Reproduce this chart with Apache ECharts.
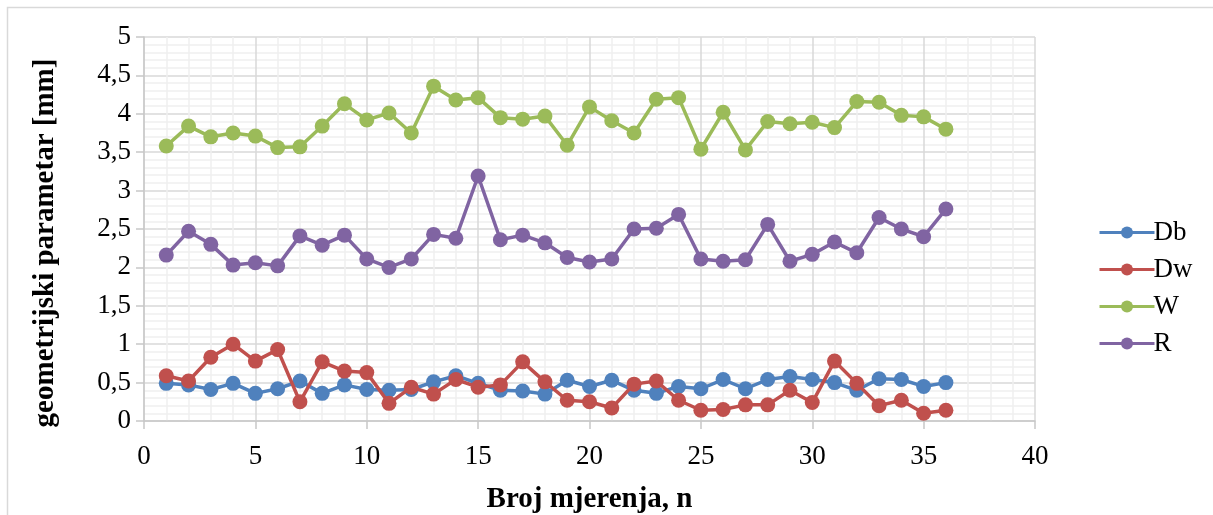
<!DOCTYPE html>
<html>
<head>
<meta charset="utf-8">
<script src="https://cdn.jsdelivr.net/npm/echarts@6/dist/echarts.min.js"></script>
<style>html,body{margin:0;padding:0;background:#fff;}#c{width:1213px;height:515px;}</style>
</head>
<body>
<div id="c"></div>
<script>
const n = [1,2,3,4,5,6,7,8,9,10,11,12,13,14,15,16,17,18,19,20,21,22,23,24,25,26,27,28,29,30,31,32,33,34,35,36];
const Db = [0.49,0.47,0.41,0.49,0.36,0.42,0.52,0.36,0.47,0.41,0.40,0.41,0.51,0.59,0.49,0.40,0.39,0.35,0.53,0.45,0.53,0.40,0.36,0.45,0.42,0.54,0.42,0.54,0.58,0.54,0.50,0.40,0.55,0.54,0.45,0.50];
const Dw = [0.59,0.52,0.83,1.00,0.78,0.93,0.25,0.77,0.65,0.63,0.23,0.44,0.35,0.54,0.44,0.47,0.77,0.51,0.27,0.25,0.17,0.48,0.52,0.27,0.14,0.15,0.21,0.21,0.40,0.24,0.78,0.49,0.20,0.27,0.10,0.14];
const W = [3.58,3.84,3.70,3.75,3.71,3.56,3.57,3.84,4.13,3.92,4.01,3.75,4.36,4.18,4.21,3.95,3.93,3.97,3.59,4.09,3.91,3.75,4.19,4.21,3.54,4.02,3.53,3.90,3.87,3.89,3.82,4.16,4.15,3.98,3.96,3.80];
const R = [2.16,2.47,2.30,2.03,2.06,2.02,2.41,2.29,2.42,2.11,2.00,2.11,2.43,2.38,3.19,2.36,2.42,2.32,2.13,2.07,2.11,2.50,2.51,2.69,2.11,2.08,2.10,2.56,2.08,2.17,2.33,2.19,2.65,2.50,2.40,2.76];
const seriesNames = ['Db','Dw','W','R'];
const seriesColors = ['#4F81BD','#C0504D','#9BBB59','#8064A2'];
const seriesValues = [Db, Dw, W, R];

const FONT = "'Liberation Serif','Times New Roman',serif";
const chart = echarts.init(document.getElementById('c'), null, {renderer:'canvas'});
chart.setOption({
  animation: false,
  backgroundColor: '#fff',
  graphic: [{
    type: 'rect', shape: {x: 7.5, y: 7.5, width: 1220, height: 520},
    style: {fill: 'none', stroke: '#D9D9D9', lineWidth: 1.5}, silent: true, z: -10
  }],
  grid: {left: 144, right: 178, top: 37, bottom: 94, outerBoundsMode: 'none', containLabel: false},
  legend: {
    orient: 'vertical', left: 1093, top: 214,
    itemWidth: 55, itemHeight: 15, itemGap: 10,
    lineStyle: {width: 3},
    textStyle: {fontFamily: FONT, fontSize: 27, color: '#000', lineHeight: 27, padding: [0,0,0,-6]},
    data: seriesNames
  },
  xAxis: {
    type: 'value', min: 0, max: 40, interval: 5,
    name: 'Broj mjerenja, n', nameLocation: 'middle', nameGap: 64,
    nameTextStyle: {fontFamily: FONT, fontSize: 29, fontWeight: 'bold', color: '#000'},
    axisLine: {show: true, lineStyle: {color: '#C8C8C8', width: 1.5}},
    axisTick: {show: true, length: 8, lineStyle: {color: '#C8C8C8', width: 1.5}},
    axisLabel: {fontFamily: FONT, fontSize: 27, color: '#000', margin: 22},
    splitLine: {show: true, lineStyle: {color: '#D9D9D9', width: 1.5}},
    minorTick: {show: false, splitNumber: 5},
    minorSplitLine: {show: true, lineStyle: {color: '#F0F0F0', width: 1.5}}
  },
  yAxis: {
    type: 'value', min: 0, max: 5, interval: 0.5,
    name: 'geometrijski parametar [mm]', nameLocation: 'middle', nameGap: 84,
    nameTextStyle: {fontFamily: FONT, fontSize: 29, fontWeight: 'bold', color: '#000', padding: [0, 28, 0, 0]},
    axisLine: {show: true, lineStyle: {color: '#C8C8C8', width: 1.5}},
    axisTick: {show: true, length: 8, lineStyle: {color: '#C8C8C8', width: 1.5}},
    axisLabel: {fontFamily: FONT, fontSize: 27, color: '#000', margin: 13,
      formatter: v => String(v).replace('.', ',')},
    splitLine: {show: true, lineStyle: {color: '#D9D9D9', width: 1.5}},
    minorTick: {show: false, splitNumber: 5},
    minorSplitLine: {show: true, lineStyle: {color: '#F0F0F0', width: 1.5}}
  },
  series: seriesNames.map((name, i) => ({
    name: name, type: 'line',
    data: n.map((x, j) => [x, seriesValues[i][j]]),
    symbol: 'circle', symbolSize: 15, showSymbol: true,
    lineStyle: {color: seriesColors[i], width: 3.5},
    itemStyle: {color: seriesColors[i], borderWidth: 0},
    z: 2 + i
  }))
});
</script>
</body>
</html>
